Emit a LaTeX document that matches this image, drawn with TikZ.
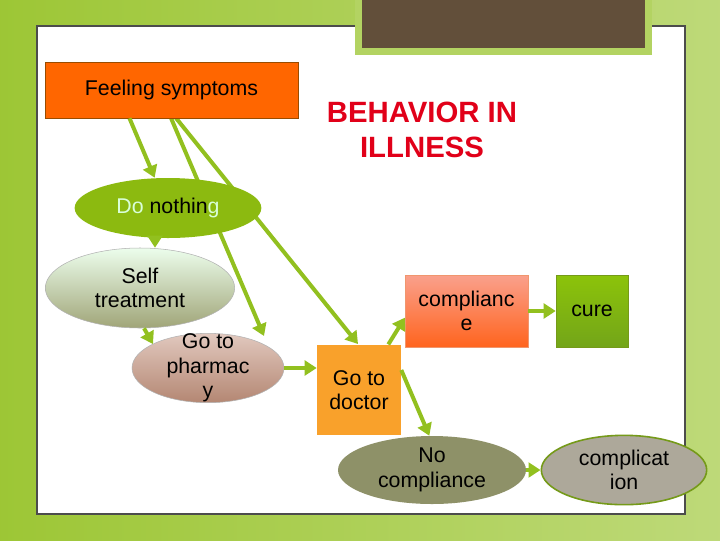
\documentclass[tikz,border=0pt]{standalone}
\usepackage{fontspec}
\setmainfont{Liberation Sans}
\usetikzlibrary{arrows.meta,shapes.geometric,backgrounds}
\definecolor{arr}{HTML}{92C01F}
\begin{document}
\begin{tikzpicture}[x=0.75pt,y=-0.75pt,
  con/.style={draw=arr,line width=3pt,-{Triangle[length=9pt,width=11pt]}},
  txt/.style={font=\fontsize{16}{18.5}\selectfont,align=center,text=black}]
\useasboundingbox (0,0) rectangle (720,540);
\node[txt,draw=orange!60!black,fill={rgb,255:red,255;green,102;blue,0},minimum width=190pt,minimum height=42pt] (fs) at (171.5,90) {Feeling symptoms};
\node[font=\bfseries\fontsize{22}{26}\selectfont,text={rgb,255:red,225;green,0;blue,25},align=center] (title) at (422,130) {BEHAVIOR IN\\ILLNESS};
\node[ellipse,fill={rgb,255:red,140;green,186;blue,16},minimum width=140pt,minimum height=45pt,txt] (dn) at (168,208) {\textcolor{white!85!green}{Do} nothin\textcolor{white!85!green}{g}};
\node[ellipse,draw=gray!60,top color=gray!15!green!8!white,bottom color={rgb,255:red,160;green,165;blue,120},minimum width=142pt,minimum height=60pt,txt] (st) at (140,288) {Self\\treatment};
\node[ellipse,draw=gray!60,top color={rgb,255:red,225;green,200;blue,190},bottom color={rgb,255:red,180;green,135;blue,115},minimum width=114pt,minimum height=52pt] (ph) at (208,368) {};
\node[txt] (phtext) at (208,368) {Go to\\pharmac\\y};
\node[fill={rgb,255:red,249;green,161;blue,43},minimum width=63pt,minimum height=68pt,txt] (dr) at (359,390) {Go to\\doctor};
\node[draw={rgb,255:red,240;green,150;blue,110},top color={rgb,255:red,250;green,160;blue,140},bottom color={rgb,255:red,255;green,100;blue,30},minimum width=92pt,minimum height=54pt,txt] (co) at (466.5,311) {complianc\\e};
\node[draw=arr!80!black,top color={rgb,255:red,140;green,195;blue,10},bottom color={rgb,255:red,115;green,165;blue,25},minimum width=54pt,minimum height=54pt,txt] (cu) at (592,311) {cure};
\node[ellipse,fill={rgb,255:red,142;green,145;blue,104},minimum width=141pt,minimum height=51pt,txt,inner sep=0pt] (nc) at (432,470) {No\\compliance};
\node[ellipse,draw=arr!80!black,line width=1.2pt,fill={rgb,255:red,173;green,168;blue,154},minimum width=124pt,minimum height=52pt,txt,inner sep=0pt] (cx) at (624,470) {complicat\\ion};
\coordinate (s1) at (171,118);
\coordinate (s2) at (176,118);
\coordinate (e1) at (264,336);
\coordinate (e2) at (358,344);
\coordinate (e3) at (153,344);
\begin{scope}[on background layer]
\shade[left color=arr!90!white,right color=arr!60!white] (0,0) rectangle (720,540);
\fill[white,draw=black!70,line width=0.8pt] (37,26) rectangle (685,514);
\fill[arr!70!white] (355,0) rectangle (652,55);
\fill[black!55!brown!70!gray] (362,0) rectangle (645,48);
\draw[con] (s1) -- (e1);
\draw[con] (s2) -- (e2);
\end{scope}
\draw[con] ([xshift=-31.5pt]fs.south) -- ([xshift=-10pt]dn.north);
\draw[con] (dn.south -| 155,0) -- (st.north -| 155,0);
\draw[con] ([xshift=3pt]st.south) -- (e3);
\draw[con] (ph.east) -- (dr.west |- ph.east);
\draw[con] ([xshift=22pt]dr.north) -- ([yshift=-5pt]co.west);
\draw[con] ([yshift=15pt]dr.east) -- ([xshift=-2pt]nc.north);
\draw[con] (co.east) -- (cu.west);
\draw[con] (nc.east) -- (cx.west);
\end{tikzpicture}
\end{document}
